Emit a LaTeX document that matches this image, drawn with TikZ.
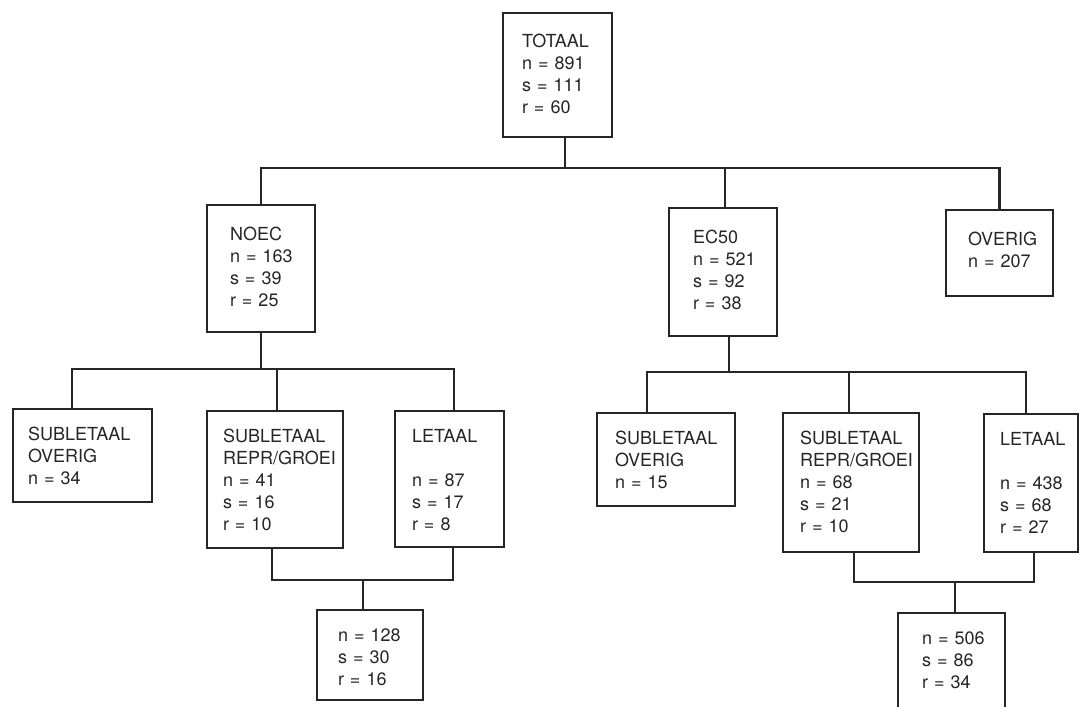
\documentclass[tikz,border=0pt]{standalone}
\usepackage{fontspec}
\setmainfont{TeX Gyre Heros}
\usepackage{tikz}
\hfuzz=20pt

\tikzset{
    box/.style={draw, anchor=north west, outer sep=0pt, align=left,
        font=\fontsize{18}{22}\selectfont, inner xsep=17pt, inner ysep=18pt,
        text height=13pt},
    headbox/.style={box, text height=17pt},
}

\begin{document}
\begin{tikzpicture}[x=1pt,y=-1pt,line width=2.2pt,color=black!85]
    \useasboundingbox (0,0) rectangle (1083,706);

    % top level
    \node[headbox, inner xsep=19pt, text width=71pt, text depth=71pt] (totaal) at (503,13)
        {TOTAAL\\n~=~891\\s~=~111\\r~=~60};
    \node[headbox, inner xsep=23pt, text width=62pt, text depth=74pt] (noec) at (207,205)
        {NOEC\\n~=~163\\s~=~39\\r~=~25};
    \node[headbox, inner xsep=24pt, text width=60pt, text depth=75pt] (ec) at (669,208)
        {EC50\\n~=~521\\s~=~92\\r~=~38};
    \node[headbox, inner xsep=22pt, text width=63pt, text depth=33pt] (ovr) at (946,210)
        {OVERIG\\n~=~207};

    % under NOEC
    \node[box, inner xsep=15pt, text width=109pt, text depth=44pt] (sol) at (13,409)
        {SUBLETAAL\\OVERIG\\n~=~34};
    \node[box, inner xsep=16pt, text width=104pt, text depth=88pt] (srl) at (207,411)
        {SUBLETAAL\\REPR/GROEI\\n~=~41\\s~=~16\\r~=~10};
    \node[box, inner xsep=17pt, text width=75pt, text depth=87pt] (ll) at (395,411)
        {LETAAL\\[22pt]n~=~87\\s~=~17\\r~=~8};
    \node[box, inner xsep=21pt, text width=64pt, text depth=41pt] (bl) at (317,610)
        {n~=~128\\s~=~30\\r~=~16};

    % under EC50
    \node[box, inner xsep=18pt, text width=102pt, text depth=44pt] (seo) at (597,413)
        {SUBLETAAL\\OVERIG\\n~=~15};
    \node[box, inner xsep=17pt, text width=102pt, text depth=90pt] (ser) at (783,413)
        {SUBLETAAL\\REPR/GROEI\\n~=~68\\s~=~21\\r~=~10};
    \node[box, inner xsep=16pt, text width=62pt, text depth=89pt] (le) at (984,414)
        {LETAAL\\[22pt]n~=~438\\s~=~68\\r~=~27};
    \node[box, inner xsep=24pt, text width=59pt, text depth=46pt] (br) at (898,613)
        {n~=~506\\s~=~86\\r~=~34};

    % connectors
    \draw ([xshift=7.5]totaal.south) -- ++(0,31);
    \draw (noec.north) -- ++(0,-37) -| (ovr.north);
    \draw ([xshift=2]ec.north) -- ++(0,-40);

    \draw (noec.south) -- ++(0,37);
    \draw ([xshift=-10.5]sol.north) -- ++(0,-40) -| ([xshift=4.5]ll.north);
    \draw ([xshift=2]srl.north) -- ++(0,-42);
    \draw ([xshift=-3]srl.south) -- ++(0,32) -| ([xshift=3.5]ll.south);
    \draw ([xshift=-7]bl.north) -- ++(0,-30);

    \draw ([xshift=6]ec.south) -- ++(0,36);
    \draw ([xshift=-19]seo.north) -- ++(0,-41) -| ([xshift=-5]le.north);
    \draw ([xshift=-2]ser.north) -- ++(0,-41);
    \draw ([xshift=3]ser.south) -- ++(0,30) -| ([xshift=3]le.south);
    \draw ([xshift=3.5]br.north) -- ++(0,-31);
\end{tikzpicture}
\end{document}
